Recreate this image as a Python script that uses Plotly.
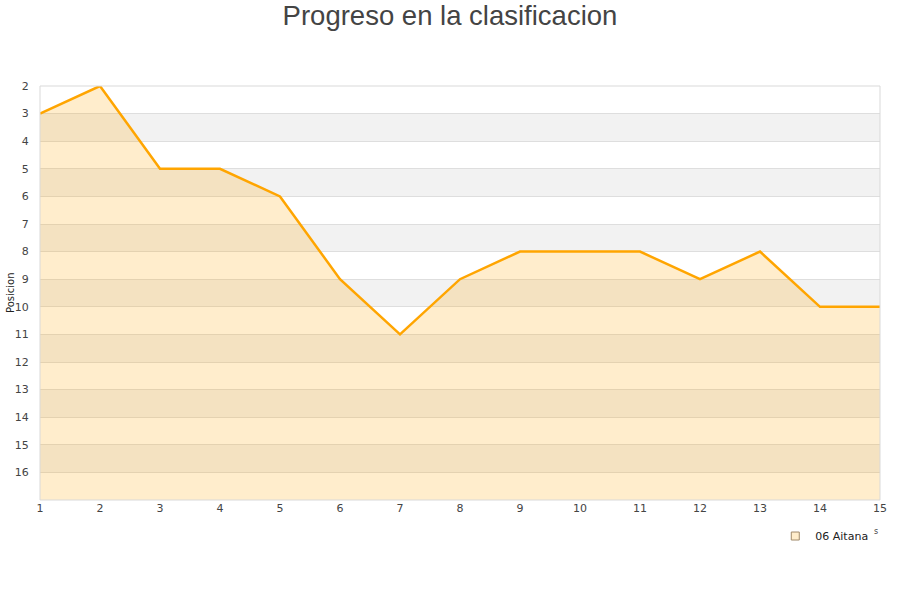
import plotly.graph_objects as go

jornadas = list(range(1, 16))
posiciones = [3, 2, 5, 5, 6, 9, 11, 9, 8, 8, 8, 9, 8, 10, 10]
serie = "06 Aitana"
y_ticks = list(range(2, 17))
y_bottom = 17
y_top = 2

fig = go.Figure()

# baseline for area fill (bottom of reversed axis)
fig.add_trace(go.Scatter(x=jornadas, y=[y_bottom] * len(jornadas), mode="lines",
                         line=dict(width=0, color="rgba(0,0,0,0)"), showlegend=False,
                         hoverinfo="skip"))
fig.add_trace(go.Scatter(x=jornadas, y=posiciones, mode="lines", fill="tonexty",
                         fillcolor="rgba(255,165,0,0.2)",
                         line=dict(color="#ffa500", width=2.5), showlegend=False,
                         name=serie))
# legend entry
fig.add_trace(go.Scatter(x=[None], y=[None], mode="markers", name=serie,
                         marker=dict(symbol="square", size=8, color="#ffedcb",
                                     line=dict(color="#a08a6a", width=1))))

shapes = []
for k in range(3, 17, 2):
    shapes.append(dict(type="rect", xref="paper", yref="y", x0=0, x1=1, y0=k, y1=k + 1,
                       fillcolor="#f2f2f2", line=dict(width=0), layer="below"))
shapes.append(dict(type="rect", xref="paper", yref="paper", x0=0, x1=1, y0=0, y1=1,
                   fillcolor="rgba(0,0,0,0)", line=dict(color="#d9d9d9", width=1), layer="above"))

fig.update_layout(
    width=900, height=600,
    margin=dict(l=40, r=20, t=86, b=100),
    paper_bgcolor="white", plot_bgcolor="white",
    title=dict(text="Progreso en la clasificacion", x=0.5, xanchor="center", y=0.975, yanchor="middle",
               font=dict(family="Liberation Sans, Arial", size=27.5, color="#444444")),
    font=dict(family="DejaVu Sans", size=11, color="#444444"),
    shapes=shapes,
    xaxis=dict(range=[1, 15], tickmode="array", tickvals=jornadas, showgrid=False,
               zeroline=False, showline=False, ticks="", tickfont=dict(size=11, color="#444444")),
    yaxis=dict(range=[y_bottom, y_top], tickmode="array", tickvals=y_ticks, showgrid=True,
               gridcolor="#dedede", gridwidth=1, zeroline=False, showline=False, ticks="outside",
               ticklen=8, tickcolor="rgba(0,0,0,0)", tickfont=dict(size=11, color="#444444")),
    legend=dict(x=0.992, xanchor="right", y=-0.087, yanchor="middle", orientation="h",
                font=dict(size=11, color="#222222"), bgcolor="rgba(0,0,0,0)"),
    annotations=[
        dict(text="Posicion", xref="paper", yref="paper", x=-0.0357, y=0.5, textangle=-90,
             showarrow=False, font=dict(size=10, color="#222222"), xanchor="center", yanchor="middle"),
        dict(text="s", xref="paper", yref="paper", x=0.9952, y=-0.077, showarrow=False,
             font=dict(size=8, color="#444444"), xanchor="center", yanchor="middle"),
    ],
)

fig.write_html("out.html", config={"displayModeBar": False},
               post_script="document.body.style.margin='0';document.body.style.overflow='hidden';")
